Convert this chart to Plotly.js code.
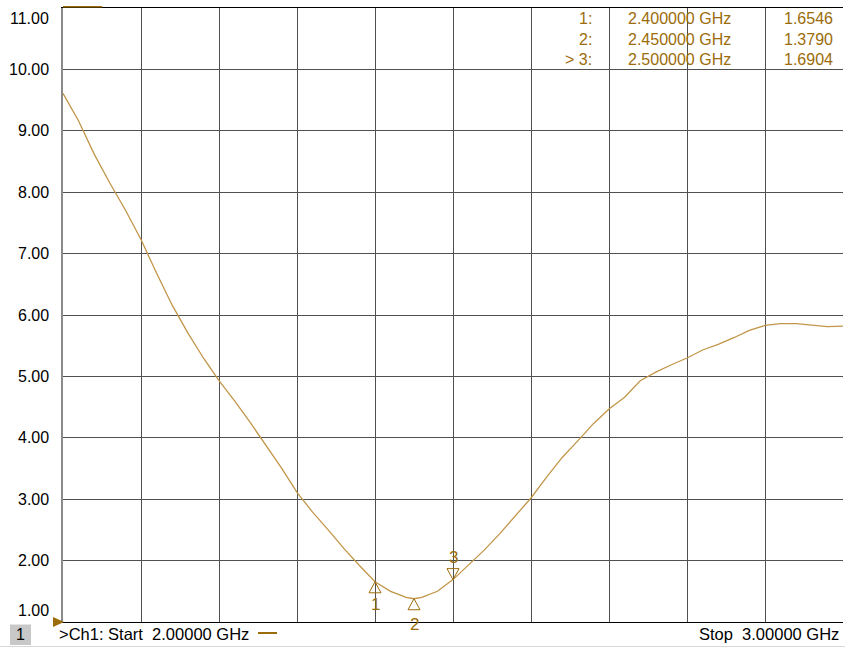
<!DOCTYPE html>
<html>
<head>
<meta charset="utf-8">
<script src="https://cdn.plot.ly/plotly-3.0.1.min.js"></script>
<style>html,body{margin:0;padding:0;background:#fff;}#chart{width:845px;height:648px;}</style>
</head>
<body>
<div id="chart"></div>
<script>
// Frequency (GHz) and SWR values
const freqGHz = [2.00,2.02,2.04,2.06,2.08,2.10,2.12,2.14,2.16,2.18,2.20,2.22,2.24,2.26,2.28,2.30,2.32,2.34,2.36,2.38,2.40,2.42,2.44,2.45,2.46,2.48,2.50,2.52,2.54,2.56,2.58,2.60,2.62,2.64,2.66,2.68,2.70,2.72,2.74,2.76,2.78,2.80,2.82,2.84,2.86,2.88,2.90,2.92,2.94,2.96,2.98,3.00];
const swr = [9.61,9.16,8.62,8.15,7.71,7.23,6.68,6.16,5.71,5.30,4.93,4.60,4.25,3.89,3.51,3.11,2.79,2.50,2.20,1.92,1.6546,1.50,1.40,1.379,1.40,1.50,1.6904,1.93,2.17,2.44,2.73,3.02,3.36,3.68,3.95,4.23,4.47,4.66,4.93,5.07,5.19,5.30,5.43,5.52,5.63,5.75,5.83,5.86,5.86,5.83,5.81,5.82];

// Markers
const markerIds = ['1', '2', '3'];
const markerFreq = [2.40, 2.45, 2.50];
const markerSwr = [1.6546, 1.3790, 1.6904];
const markerFreqText = ['2.400000 GHz', '2.450000 GHz', '2.500000 GHz'];
const markerValText = ['1.6546', '1.3790', '1.6904'];
const activeMarker = 2;

// Y tick labels
const yTickVals = [1,2,3,4,5,6,7,8,9,10,11];
const yTickText = ['1.00','2.00','3.00','4.00','5.00','6.00','7.00','8.00','9.00','10.00','11.00'];

const startText = '>Ch1: Start\u00a0\u00a02.00000 GHz';
const stopText = 'Stop\u00a0\u00a03.00000 GHz';

const brown = '#9c6c0a';
const traceColor = '#c29649';
const FONT = 'Arial, "Liberation Sans", sans-serif';

const annotations = [];
const shapes = [];

// Y tick labels
yTickVals.forEach((v, i) => {
  let ys = 0;
  if (i === 0) ys = 12;
  if (i === yTickVals.length - 1) ys = -10;
  annotations.push({xref:'paper', yref:'y', x:0, y:v, xanchor:'right', yanchor:'middle',
    xshift:-12, yshift:ys, text:yTickText[i], showarrow:false,
    font:{family:FONT, size:16, color:'#000'}});
});

// Marker table
const rowY = [18, 39, 59];
markerIds.forEach((id, i) => {
  const yp = 1 - (rowY[i] - 8) / 614;
  const label = (i === activeMarker ? '>\u00a0' : '') + id + ':';
  annotations.push({xref:'paper', yref:'paper', x:(594-63)/780, y:yp, xanchor:'right', yanchor:'middle',
    text:label, showarrow:false, font:{family:FONT, size:16, color:brown}});
  annotations.push({xref:'paper', yref:'paper', x:(626-63)/780, y:yp, xanchor:'left', yanchor:'middle',
    text:markerFreqText[i], showarrow:false, font:{family:FONT, size:16, color:brown}});
  annotations.push({xref:'paper', yref:'paper', x:(835-63)/780, y:yp, xanchor:'right', yanchor:'middle',
    text:markerValText[i], showarrow:false, font:{family:FONT, size:16, color:brown}});
});

// Marker triangles and numbers
markerIds.forEach((id, i) => {
  const down = (i === activeMarker);
  const path = down ? 'M0,0 L-6,11 L6,11 Z' : 'M0,0 L-6,-11 L6,-11 Z';
  shapes.push({type:'path', xref:'x', yref:'y', xsizemode:'pixel', ysizemode:'pixel',
    xanchor:markerFreq[i], yanchor:markerSwr[i], path:path,
    line:{color:brown, width:1}, fillcolor:'rgba(0,0,0,0)'});
  let ys;
  if (down) ys = 22; else if (i === 0) ys = -23; else ys = -26;
  annotations.push({xref:'x', yref:'y', x:markerFreq[i], y:markerSwr[i], xanchor:'center',
    yanchor:'middle', yshift:ys, text:id, showarrow:false,
    font:{family:FONT, size:17, color:brown}});
});

// Reference marker triangle (left, at bottom value)
shapes.push({type:'path', xref:'paper', yref:'paper', xsizemode:'pixel', ysizemode:'pixel',
  xanchor:0, yanchor:0, path:'M-10,5 L1,0 L-10,-5 Z', line:{color:brown, width:0}, fillcolor:brown});
// Top-left brown segment
shapes.push({type:'line', xref:'paper', yref:'paper', x0:0, x1:39/780, y0:1.002, y1:1.002,
  line:{color:brown, width:1.5}});

// Bottom strip
shapes.push({type:'rect', xref:'paper', yref:'paper', x0:-53/780, x1:-32/780,
  y0:-23/614, y1:-2.5/614, line:{width:0}, fillcolor:'#c8c8c8'});
shapes.push({type:'line', xref:'paper', yref:'paper', x0:-63/780, x1:782/780,
  y0:-24.5/614, y1:-24.5/614, line:{color:'#d8d8d8', width:1}});
shapes.push({type:'line', xref:'paper', yref:'paper', x0:(258-63)/780, x1:(277-63)/780,
  y0:-11/614, y1:-11/614, line:{color:brown, width:2}});
annotations.push({xref:'paper', yref:'paper', x:-43/780, y:-12/614, xanchor:'center', yanchor:'middle',
  text:'1', showarrow:false, font:{family:FONT, size:16, color:'#000'}});
annotations.push({xref:'paper', yref:'paper', x:-6/780, y:-12/614, xanchor:'left', yanchor:'middle',
  text:startText, showarrow:false, font:{family:FONT, size:16.5, color:'#000'}});
annotations.push({xref:'paper', yref:'paper', x:778/780, y:-12/614, xanchor:'right', yanchor:'middle',
  text:stopText, showarrow:false, font:{family:FONT, size:16.5, color:'#000'}});

const trace = {x:freqGHz, y:swr, type:'scatter', mode:'lines',
  line:{color:traceColor, width:1.3}, hoverinfo:'skip'};

const layout = {
  width:845, height:648,
  margin:{l:63, r:2, t:8, b:26},
  paper_bgcolor:'#fff', plot_bgcolor:'#fff',
  showlegend:false,
  xaxis:{range:[2,3], dtick:0.1, tick0:2, showticklabels:false, ticks:'',
    showgrid:true, gridcolor:'#505050', gridwidth:1, zeroline:false,
    showline:true, linecolor:'#000', linewidth:1, mirror:true},
  yaxis:{range:[1,11], dtick:1, tick0:1, showticklabels:false, ticks:'',
    showgrid:true, gridcolor:'#505050', gridwidth:1, zeroline:false,
    showline:true, linecolor:'#8a8a8a', linewidth:2},
  annotations:annotations,
  shapes:shapes
};

Plotly.newPlot('chart', [trace], layout, {displayModeBar:false, staticPlot:true});
</script>
</body>
</html>
